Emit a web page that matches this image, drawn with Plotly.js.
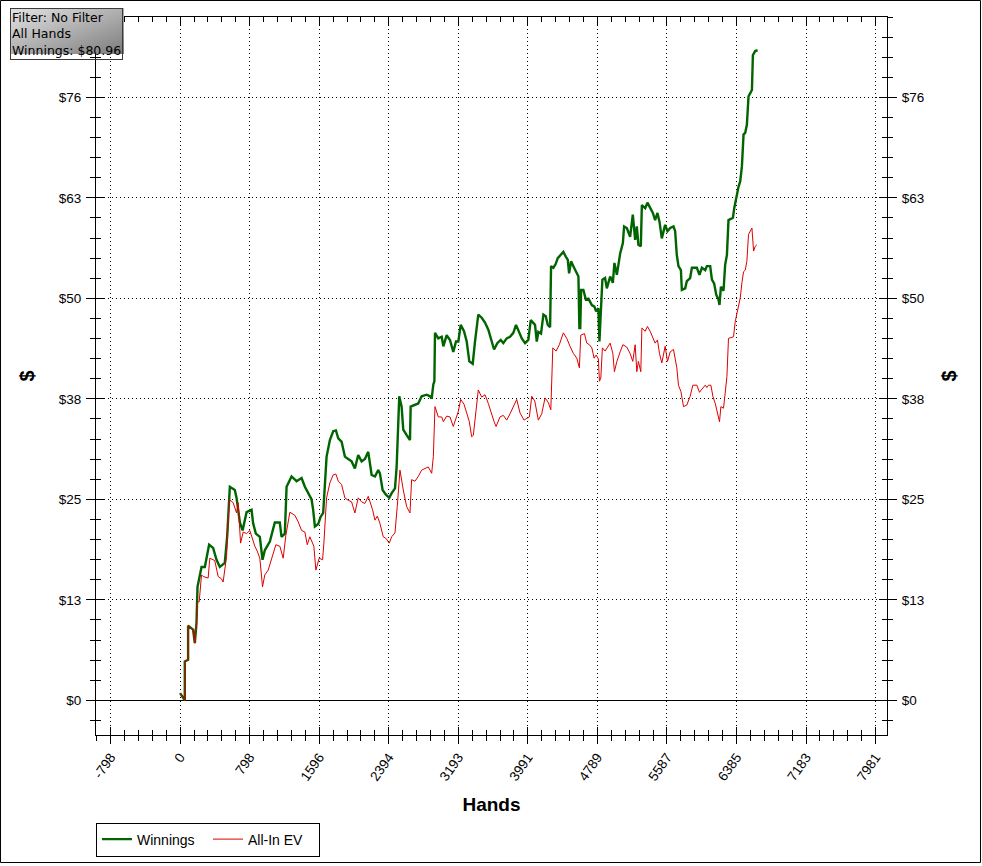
<!DOCTYPE html>
<html>
<head>
<meta charset="utf-8">
<script src="https://cdn.plot.ly/plotly-3.0.1.min.js"></script>
<style>html,body{margin:0;padding:0;background:#fff;overflow:hidden;}#chart{width:982px;height:866px;}</style>
</head>
<body>
<div id="chart"></div>
<script>
// ---- data ----
const winHands = [0,54,54,92,92,149,169,188,200,246,284,333,379,418,456,513,540,571,628,648,686,717,763,820,838,869,915,946,972,1030,1087,1144,1164,1202,1222,1279,1337,1394,1432,1470,1509,1527,1547,1585,1612,1642,1662,1681,1719,1757,1788,1815,1853,1891,1929,1968,2006,2044,2083,2121,2159,2178,2198,2236,2274,2293,2324,2362,2400,2428,2466,2485,2504,2515,2542,2561,2600,2638,2646,2695,2733,2772,2830,2868,2887,2906,2918,2925,2963,3002,3021,3059,3097,3135,3166,3193,3220,3258,3289,3319,3358,3384,3422,3461,3499,3537,3576,3603,3640,3679,3709,3748,3786,3824,3855,3882,3921,3959,3996,4024,4054,4073,4093,4111,4142,4169,4196,4219,4246,4257,4284,4311,4334,4372,4398,4426,4449,4464,4487,4513,4541,4571,4582,4592,4602,4628,4656,4686,4725,4754,4774,4800,4812,4828,4846,4877,4897,4935,4966,4984,5012,5050,5081,5095,5126,5164,5195,5222,5241,5259,5287,5299,5337,5363,5394,5425,5451,5478,5501,5528,5566,5593,5624,5662,5681,5700,5719,5747,5758,5796,5815,5853,5873,5930,5960,5988,6026,6045,6083,6103,6129,6152,6178,6190,6206,6236,6255,6275,6293,6321,6344,6359,6382,6408,6428,6447,6466,6485,6504,6523,6543,6562,6573,6600,6627];
const winDollars = [0.9,0,4.9,5.1,9.4,8.9,7.2,9.7,14.3,16.8,16.8,19.6,19.2,17.7,16.8,17.3,20.6,26.9,26.5,25.5,22.4,21.4,23.7,24.0,22.3,21.0,20.6,17.7,18.9,20.0,22.4,22.4,20.6,21.0,26.9,28.2,27.6,28.0,26.9,26.1,25.3,24.0,21.9,22.2,23.1,23.6,28.2,30.7,32.8,33.9,34.0,33.0,32.6,30.7,30.4,30.1,29.2,30.9,30.1,30.4,31.3,30.1,28.4,28.2,29.0,28.6,26.5,25.9,25.5,26.1,26.7,29.4,35.7,38.3,37.0,34.1,33.4,32.8,37.0,37.2,37.4,38.3,38.5,38.3,38.0,39.8,40.2,46.3,45.6,45.8,44.6,46.0,45.4,43.9,45.2,45.2,47.3,46.5,45.2,42.7,42.4,45.2,48.6,48.2,47.6,46.7,45.2,44.2,45.0,45.4,45.0,45.6,45.8,46.3,47.3,46.5,45.6,45.0,45.4,47.9,47.5,47.3,45.2,46.4,46.2,48.6,48.4,47.3,47.0,54.7,54.5,55.0,55.7,56.2,56.5,55.9,55.5,53.8,55.3,54.7,54.0,53.4,46.9,46.9,51.7,51.7,50.5,50.6,49.8,49.6,49.0,49.4,45.2,49.8,53.0,53.2,51.9,53.4,52.6,55.1,53.6,56.3,57.6,59.7,59.5,58.4,61.2,58.0,59.7,57.4,57.2,62.4,62.0,62.7,62.0,61.4,60.5,61.4,60.3,58.2,59.9,59.1,59.5,59.7,59.1,56.1,54.7,54.2,51.7,51.9,52.8,53.2,54.5,54.5,53.6,54.5,54.2,54.7,54.7,53.0,52.5,51.1,50.5,49.8,52.1,51.6,54.9,56.1,60.5,60.7,60.8,62.0,63.3,64.7,65.4,67.3,71.3,71.5,72.5,76.1,76.5,76.9,81.3,81.8,81.9];

const evHands = [0,54,54,92,92,149,169,188,200,219,246,264,322,341,398,437,475,494,533,563,609,648,666,694,724,763,800,831,858,885,915,946,972,1011,1049,1099,1145,1183,1214,1260,1317,1355,1394,1432,1459,1489,1535,1558,1596,1635,1650,1681,1719,1757,1788,1815,1853,1891,1929,1968,2006,2044,2083,2121,2159,2209,2236,2263,2293,2331,2362,2400,2428,2466,2492,2523,2561,2600,2638,2657,2695,2733,2772,2810,2848,2887,2906,2925,2963,3002,3021,3059,3097,3135,3166,3193,3220,3258,3289,3319,3346,3365,3396,3422,3461,3499,3537,3576,3603,3626,3671,3709,3748,3786,3824,3863,3901,3947,3975,4008,4035,4070,4111,4150,4188,4226,4254,4277,4315,4352,4398,4437,4475,4513,4552,4582,4598,4640,4667,4697,4725,4751,4774,4800,4812,4828,4846,4877,4935,4966,4984,5012,5050,5081,5126,5164,5195,5222,5241,5259,5287,5299,5337,5363,5394,5425,5451,5478,5501,5528,5566,5593,5624,5662,5700,5719,5747,5777,5815,5853,5884,5930,5960,5988,6026,6045,6064,6091,6114,6141,6167,6190,6206,6236,6255,6275,6293,6321,6351,6370,6389,6408,6428,6447,6466,6485,6504,6523,6543,6562,6581,6600,6619];
const evDollars = [0.9,0,4.9,5.1,9.4,8.9,7.2,9.7,12.4,12.4,15.8,15.6,15.4,17.9,17.6,15.6,15.3,14.9,18.1,25.3,24.9,23.6,24.9,19.8,21.2,21.0,21.4,20.2,19.4,18.8,17.9,14.3,15.8,16.4,17.7,19.6,19.4,17.9,20.8,23.7,23.3,22.5,21.4,21.2,19.6,20.6,19.4,16.4,17.9,17.7,19.8,25.5,27.4,28.4,28.5,27.6,27.2,25.5,25.2,25.0,23.6,25.5,25.0,24.8,25.7,24.0,22.7,23.2,22.3,20.6,20.4,19.8,20.6,21.1,24.4,29.0,26.5,24.4,23.6,27.8,27.6,28.2,29.0,29.2,29.4,28.6,30.7,37.0,35.7,35.7,35.1,35.8,35.7,34.5,35.5,36.4,37.9,37.3,36.2,35.1,33.2,33.4,36.5,39.1,38.2,38.5,37.4,35.9,35.1,34.5,35.7,35.9,35.3,36.1,37.0,37.9,36.2,35.3,35.5,35.7,38.3,37.7,35.3,36.1,38.1,37.5,36.6,44.4,44.0,44.8,46.3,45.6,44.6,43.7,43.1,41.9,46.0,46.2,45.0,44.8,44.4,43.1,43.5,43.0,40.2,40.6,44.4,44.0,45.0,43.7,41.4,42.7,43.9,44.8,44.5,43.7,42.7,44.8,41.4,42.7,41.4,46.9,46.5,47.1,46.5,45.6,45.0,45.4,43.7,42.5,44.6,42.7,43.9,44.2,41.9,39.7,38.9,37.0,37.2,38.3,39.7,39.7,38.8,39.2,39.7,39.4,39.7,39.7,38.3,37.4,36.2,35.1,37.0,36.8,38.7,40.8,45.6,45.7,45.8,47.7,48.6,49.6,50.7,52.6,54.0,54.2,55.3,58.7,59.1,59.5,56.6,57.2,57.4];

const seriesNames = ['Winnings', 'All-In EV'];
const xTickVals = [-798.13,0,798.13,1596.26,2394.39,3192.52,3990.65,4788.78,5586.91,6385.04,7183.17,7981.3];
const xTickText = ['-798','0','798','1596','2394','3193','3991','4789','5587','6385','7183','7981'];
const yTickVals = [0,12.66,25.32,37.98,50.64,63.30,75.96];
const yTickText = ['$0','$13','$25','$38','$50','$63','$76'];
const infoLines = ['Filter: No Filter', 'All Hands', 'Winnings: $80.96'];

// ---- chart ----
const xRange = [-965, 8112];
const yRange = [-4.374, 86.09];
const tickFont = {family: 'Liberation Sans, Arial, sans-serif', size: 13.5, color: '#000'};

const traces = [
  {x: winHands, y: winDollars, type: 'scatter', mode: 'lines', name: seriesNames[0],
   line: {color: '#006400', width: 2.4}, hoverinfo: 'skip'},
  {x: evHands, y: evDollars, type: 'scatter', mode: 'lines', name: seriesNames[1],
   line: {color: '#dd0000', width: 1}, hoverinfo: 'skip'},
  {x: [], y: [], xaxis: 'x2', yaxis: 'y', showlegend: false, hoverinfo: 'skip'},
  {x: [], y: [], xaxis: 'x', yaxis: 'y2', showlegend: false, hoverinfo: 'skip'},
  {x: [], y: [], xaxis: 'x', yaxis: 'y3', showlegend: false, hoverinfo: 'skip'}
];

const minorX = (dir) => ({tickmode: 'linear', tick0: 0, dtick: 798.13/5, ticks: dir, ticklen: 5, tickcolor: '#000', tickwidth: 1, showgrid: false});
const minorY = (dir) => ({tickmode: 'linear', tick0: 0, dtick: 12.66/5, ticks: dir, ticklen: 5, tickcolor: '#000', tickwidth: 1, showgrid: false});

const layout = {
  width: 982, height: 866,
  margin: {l: 96, r: 95, t: 17, b: 131, pad: 0, autoexpand: false},
  paper_bgcolor: '#fff', plot_bgcolor: '#fff',
  font: {family: 'Liberation Sans, Arial, sans-serif', color: '#000'},
  showlegend: true,
  legend: {orientation: 'h', x: 0, xanchor: 'left', y: -0.1219, yanchor: 'top',
           bordercolor: '#000', borderwidth: 1, bgcolor: '#fff',
           font: {size: 14, color: '#000'}, itemwidth: 30, entrywidth: 66, tracegroupgap: 0},
  xaxis: {range: xRange, autorange: false, tickmode: 'array', tickvals: xTickVals, ticktext: xTickText,
          tickangle: -55, tickfont: tickFont, ticks: 'outside', ticklen: 8, tickcolor: '#000', tickwidth: 1,
          showline: true, linecolor: '#000', linewidth: 1, automargin: false,
          showgrid: true, gridcolor: '#000', gridwidth: 1, griddash: '1px,3px', zeroline: false,
          minor: minorX('outside'),
          title: {text: 'Hands', font: {size: 19, weight: 'bold', color: '#000'}, standoff: 15}},
  xaxis2: {overlaying: 'x', anchor: 'y', side: 'bottom', range: xRange, autorange: false,
           tickmode: 'array', tickvals: xTickVals, showticklabels: false, automargin: false,
           ticks: 'inside', ticklen: 8, tickcolor: '#000', showline: true, linecolor: '#000',
           mirror: 'allticks', showgrid: false, zeroline: false, minor: minorX('inside')},
  yaxis: {range: yRange, autorange: false, tickmode: 'array', tickvals: yTickVals, ticktext: yTickText,
          tickfont: tickFont, ticks: 'outside', ticklen: 9, tickcolor: '#000', tickwidth: 1,
          ticklabelstandoff: 2, automargin: false,
          showline: true, linecolor: '#000', linewidth: 1,
          showgrid: true, gridcolor: '#000', gridwidth: 1, griddash: '1px,3px',
          zeroline: true, zerolinecolor: '#000', zerolinewidth: 1,
          minor: minorY('outside'),
          title: {text: '$', font: {size: 20, weight: 'bold', color: '#000'}, standoff: 18}},
  yaxis2: {overlaying: 'y', anchor: 'x', side: 'left', range: yRange, autorange: false,
           tickmode: 'array', tickvals: yTickVals, showticklabels: false, automargin: false,
           ticks: 'inside', ticklen: 8, tickcolor: '#000', showline: true, linecolor: '#000',
           mirror: 'allticks', showgrid: false, zeroline: false, minor: minorY('inside')},
  yaxis3: {overlaying: 'y', anchor: 'x', side: 'right', range: yRange, autorange: false,
           tickmode: 'array', tickvals: yTickVals, ticktext: yTickText, tickfont: tickFont,
           ticks: 'outside', ticklen: 9, tickcolor: '#000', showline: true, linecolor: '#000',
           ticklabelstandoff: 2, automargin: false,
           showgrid: false, zeroline: false, minor: minorY('outside'),
           title: {text: '$', font: {size: 20, weight: 'bold', color: '#000'}, standoff: 18}},
  images: [{
    source: 'data:image/svg+xml;utf8,' + encodeURIComponent(
      '<svg xmlns="http://www.w3.org/2000/svg" width="114" height="46"><defs><linearGradient id="g" x1="0" y1="0" x2="1" y2="1"><stop offset="0" stop-color="#e4e4e4"/><stop offset="1" stop-color="#7c7c7c"/></linearGradient></defs><rect width="114" height="46" fill="url(#g)"/></svg>'),
    xref: 'paper', yref: 'paper', x: -0.1087, y: 1.0125, sizex: 114/791, sizey: 46/718,
    xanchor: 'left', yanchor: 'top', sizing: 'stretch', layer: 'above'
  }],
  annotations: [{
    text: infoLines.join('<br>'), xref: 'paper', yref: 'paper', x: -0.1087, y: 1.0125,
    xanchor: 'left', yanchor: 'top', align: 'left', showarrow: false,
    font: {family: 'DejaVu Sans, Verdana, sans-serif', size: 12.5, color: '#000'},
    bgcolor: 'rgba(0,0,0,0)', bordercolor: '#3a3a3a', borderwidth: 1, borderpad: 1
  }],
  shapes: [{type: 'rect', xref: 'paper', yref: 'paper', x0: -0.1207, x1: 1.1182, y0: -0.1776, y1: 1.0230,
            line: {color: '#000', width: 1}, fillcolor: 'rgba(0,0,0,0)', layer: 'below'}]
};

Plotly.newPlot('chart', traces, layout, {staticPlot: true, displayModeBar: false});
</script>
</body>
</html>
